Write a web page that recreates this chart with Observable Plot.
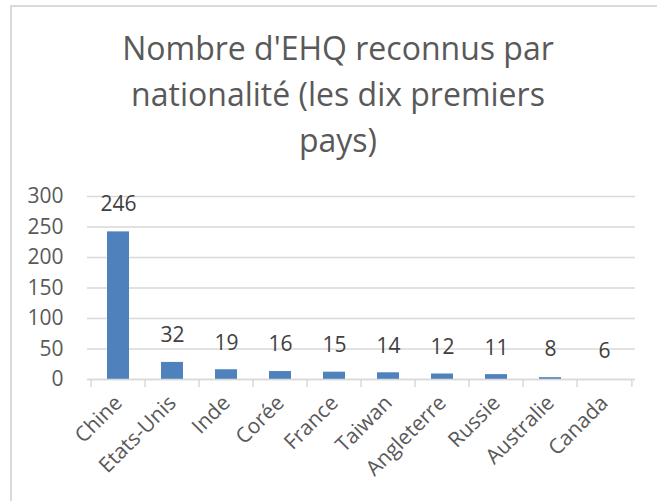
<!DOCTYPE html>
<html>
<head>
<meta charset="utf-8">
<script src="https://cdn.jsdelivr.net/npm/d3@7"></script>
<script src="https://cdn.jsdelivr.net/npm/@observablehq/plot@0.6"></script>
<style>
  body { margin: 0; background: #fff; width: 657px; height: 501px; overflow: hidden; position: relative; }
  #frame { position: absolute; left: 10px; top: 5px; width: 700px; height: 600px;
           border-left: 2px solid #d9d9d9; border-top: 2px solid #d9d9d9; }
  #title { position: absolute; left: 0; top: 25px; width: 676px; text-align: center;
           font-family: "Open Sans", sans-serif; font-size: 32px; line-height: 46px; color: #595959; }
  #chart { position: absolute; left: 0; top: 180px; }
</style>
</head>
<body>
<div id="frame"></div>
<div id="title">Nombre d'EHQ reconnus par<br>nationalité (les dix premiers<br>pays)</div>
<div id="chart"></div>
<script>
// Data
const categories = ["Chine", "Etats-Unis", "Inde", "Corée", "France", "Taiwan", "Angleterre", "Russie", "Australie", "Canada"];
const labelValues = [246, 32, 19, 16, 15, 14, 12, 11, 8, 6];
// bar heights as drawn in the reference
const barValues = [242, 28, 16, 13, 12, 11, 9, 8, 3, 0];
const yTicks = [0, 50, 100, 150, 200, 250, 300];

const rows = categories.map((c, i) => ({cat: c, bar: barValues[i], label: labelValues[i]}));

const W = 657, H = 321, ML = 87, MR = 22, MT = 16, MB = 122;
const step = (W - ML - MR) / categories.length;
const grey = "#d9d9d9", txt = "#595959";

const chart = Plot.plot({
  width: W, height: H,
  marginLeft: ML, marginRight: MR, marginTop: MT, marginBottom: MB,
  style: {fontFamily: "'Open Sans', sans-serif", fontSize: "21px", color: txt, background: "transparent"},
  x: {type: "band", domain: categories, padding: 0},
  y: {domain: [0, 300]},
  marks: [
    Plot.gridY(yTicks, {stroke: grey, strokeOpacity: 1, strokeWidth: 1.5}),
    Plot.axisY(yTicks, {tickSize: 0, tickPadding: 24, fontSize: 21, fill: txt, label: null}),
    Plot.barY(rows, {x: "cat", y: "bar", fill: "#4f81bd", insetLeft: 16, insetRight: 16}),
    Plot.ruleY([0], {stroke: grey, strokeWidth: 1.5}),
    Plot.axisX(categories, {tickSize: 8, stroke: grey, strokeWidth: 1.5, tickFormat: () => "", dx: -step / 2, label: null}),
    Plot.axisX(categories.slice(-1), {tickSize: 8, stroke: grey, strokeWidth: 1.5, tickFormat: () => "", dx: step / 2, label: null}),
    Plot.axisX(categories, {tickSize: 0, tickPadding: 20, tickRotate: -45, dx: 0, fontSize: 21, fill: txt, label: null}),
    Plot.text(rows, {x: "cat", y: "label", text: d => String(d.label), dy: -25, fontSize: 21, fill: "#404040", lineAnchor: "middle"})
  ]
});
document.getElementById("chart").appendChild(chart);
</script>
</body>
</html>
